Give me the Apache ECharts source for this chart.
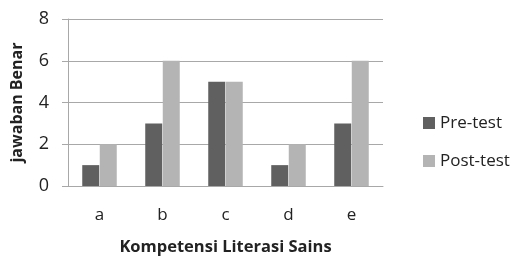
<!DOCTYPE html>
<html><head><meta charset="utf-8">
<script src="https://cdn.jsdelivr.net/npm/echarts@6/dist/echarts.min.js"></script>
<style>html,body{margin:0;padding:0;background:#fff}#c{width:514px;height:256px}</style>
</head><body><div id="c"></div>
<script>
var categories = ['a','b','c','d','e'];
var preTest = [1,3,5,1,3];
var postTest = [2,6,5,2,6];
var yTicks = [0,2,4,6,8];
var font = 'Open Sans';
var chart = echarts.init(document.getElementById('c'));
chart.setOption({
  animation:false,
  textStyle:{fontFamily:font},
  grid:{left:68,right:131,top:19,bottom:70,containLabel:false,outerBoundsMode:'none'},
  legend:{orient:'vertical',left:418,top:106,itemWidth:12,itemHeight:12,itemGap:14,
    icon:'rect',textStyle:{fontSize:17,color:'#222',fontFamily:font,lineHeight:24}},
  xAxis:{type:'category',data:categories,
    axisLine:{lineStyle:{color:'#a8a8a8'}},axisTick:{show:false},
    axisLabel:{fontSize:17,color:'#222',margin:21},
    name:'Kompetensi Literasi Sains',nameLocation:'middle',nameGap:53,
    nameTextStyle:{fontSize:16.5,fontWeight:'bold',color:'#222'}},
  yAxis:{type:'value',min:yTicks[0],max:yTicks[yTicks.length-1],interval:2,
    axisLine:{show:true,lineStyle:{color:'#a8a8a8'}},
    axisTick:{show:true,length:6,lineStyle:{color:'#a8a8a8'}},
    splitLine:{lineStyle:{color:'#a8a8a8'}},
    axisLabel:{fontSize:18,color:'#222',margin:19},
    name:'jawaban Benar',nameLocation:'middle',nameGap:43,
    nameTextStyle:{fontSize:16,fontWeight:'bold',color:'#222'}},
  series:[
    {name:'Pre-test',type:'bar',data:preTest,barWidth:17,barGap:'3%',itemStyle:{color:'#606060'}},
    {name:'Post-test',type:'bar',data:postTest,barWidth:17,itemStyle:{color:'#b4b4b4'}}
  ]
});
</script></body></html>
